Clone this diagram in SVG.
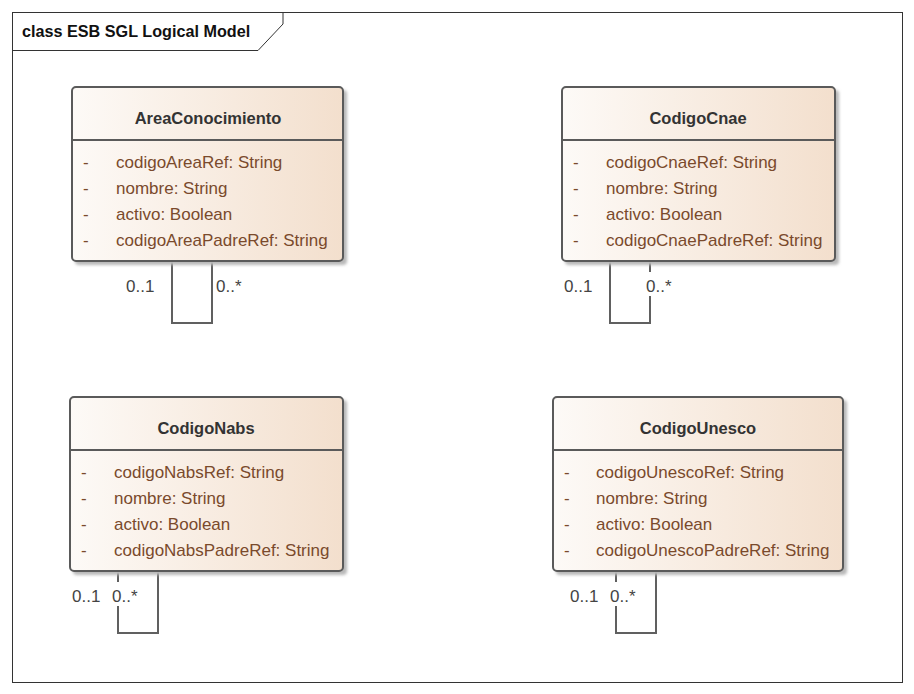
<svg xmlns="http://www.w3.org/2000/svg" width="914" height="694" viewBox="0 0 914 694">
<defs>
<linearGradient id="fill" x1="0" y1="0" x2="1" y2="0">
<stop offset="0" stop-color="#fdfaf7"/>
<stop offset="1" stop-color="#f3dfcd"/>
</linearGradient>
<filter id="blur" x="-10%" y="-10%" width="120%" height="120%"><feGaussianBlur stdDeviation="1.5"/></filter>
</defs>
<style>
.frame{fill:none;stroke:#333;stroke-width:1}
.shadow{fill:#b8b8b8;filter:url(#blur)}
.box{fill:url(#fill);stroke:#5a5a5a;stroke-width:2}
.sep{stroke:#5a5a5a;stroke-width:2}
.title{font-family:"Liberation Sans",Arial,sans-serif;font-weight:bold;font-size:16.2px;fill:#111}
.name{font-family:"Liberation Sans",Arial,sans-serif;font-weight:bold;font-size:16.5px;fill:#333;text-anchor:middle}
.attr{font-family:"Liberation Sans",Arial,sans-serif;font-size:17px;fill:#7a4a2c}
.mult{font-family:"Liberation Sans",Arial,sans-serif;font-size:17px;fill:#444}
.link{fill:none;stroke:#606060;stroke-width:2}
.bg{fill:#fff}
</style>
<rect x="0" y="0" width="914" height="694" fill="#fff"/>
<g id="frame">
<rect class="frame" x="12.5" y="12.5" width="890" height="670"/>
<polyline class="frame" points="12.5,50.5 258,50.5 283,24 283,12.5"/>
<text class="title" x="22" y="37">class ESB SGL Logical Model</text>
</g>
<g id="connectors">
<polyline class="link" points="172,262 172,323 212,323 212,262"/>
<polyline class="link" points="610,262 610,323 650,323 650,262"/>
<polyline class="link" points="118,572 118,633 158,633 158,572"/>
<polyline class="link" points="616,572 616,633 656,633 656,572"/>
<text class="mult" x="126" y="292">0..1</text>
<text class="mult" x="216" y="292">0..*</text>
<text class="mult" x="564" y="292">0..1</text>
<rect class="bg" x="644" y="272" width="32" height="24"/>
<text class="mult" x="646" y="292">0..*</text>
<rect class="bg" x="110" y="582" width="32" height="24"/>
<text class="mult" x="72" y="602">0..1</text>
<text class="mult" x="112" y="602">0..*</text>
<rect class="bg" x="608" y="582" width="32" height="24"/>
<text class="mult" x="570" y="602">0..1</text>
<text class="mult" x="610" y="602">0..*</text>
</g>
<g id="AreaConocimiento">
<rect class="shadow" x="75" y="90" width="272" height="175" rx="4"/>
<rect class="box" x="72" y="87" width="271" height="174" rx="4"/>
<line class="sep" x1="72" y1="140" x2="343" y2="140"/>
<text class="name" x="208" y="124">AreaConocimiento</text>
<text class="attr" x="83" y="168">-</text><text class="attr" x="116" y="168">codigoAreaRef: String</text>
<text class="attr" x="83" y="194">-</text><text class="attr" x="116" y="194">nombre: String</text>
<text class="attr" x="83" y="220">-</text><text class="attr" x="116" y="220">activo: Boolean</text>
<text class="attr" x="83" y="246">-</text><text class="attr" x="116" y="246">codigoAreaPadreRef: String</text>
</g>
<g id="CodigoCnae">
<rect class="shadow" x="565" y="90" width="274" height="175" rx="4"/>
<rect class="box" x="562" y="87" width="273" height="174" rx="4"/>
<line class="sep" x1="562" y1="140" x2="835" y2="140"/>
<text class="name" x="698" y="124">CodigoCnae</text>
<text class="attr" x="573" y="168">-</text><text class="attr" x="606" y="168">codigoCnaeRef: String</text>
<text class="attr" x="573" y="194">-</text><text class="attr" x="606" y="194">nombre: String</text>
<text class="attr" x="573" y="220">-</text><text class="attr" x="606" y="220">activo: Boolean</text>
<text class="attr" x="573" y="246">-</text><text class="attr" x="606" y="246">codigoCnaePadreRef: String</text>
</g>
<g id="CodigoNabs">
<rect class="shadow" x="73" y="400" width="274" height="175" rx="4"/>
<rect class="box" x="70" y="397" width="273" height="174" rx="4"/>
<line class="sep" x1="70" y1="450" x2="343" y2="450"/>
<text class="name" x="206" y="434">CodigoNabs</text>
<text class="attr" x="81" y="478">-</text><text class="attr" x="114" y="478">codigoNabsRef: String</text>
<text class="attr" x="81" y="504">-</text><text class="attr" x="114" y="504">nombre: String</text>
<text class="attr" x="81" y="530">-</text><text class="attr" x="114" y="530">activo: Boolean</text>
<text class="attr" x="81" y="556">-</text><text class="attr" x="114" y="556">codigoNabsPadreRef: String</text>
</g>
<g id="CodigoUnesco">
<rect class="shadow" x="556" y="400" width="291" height="175" rx="4"/>
<rect class="box" x="553" y="397" width="290" height="174" rx="4"/>
<line class="sep" x1="553" y1="450" x2="843" y2="450"/>
<text class="name" x="698" y="434">CodigoUnesco</text>
<text class="attr" x="564" y="478">-</text><text class="attr" x="596" y="478">codigoUnescoRef: String</text>
<text class="attr" x="564" y="504">-</text><text class="attr" x="596" y="504">nombre: String</text>
<text class="attr" x="564" y="530">-</text><text class="attr" x="596" y="530">activo: Boolean</text>
<text class="attr" x="564" y="556">-</text><text class="attr" x="596" y="556">codigoUnescoPadreRef: String</text>
</g>
</svg>
